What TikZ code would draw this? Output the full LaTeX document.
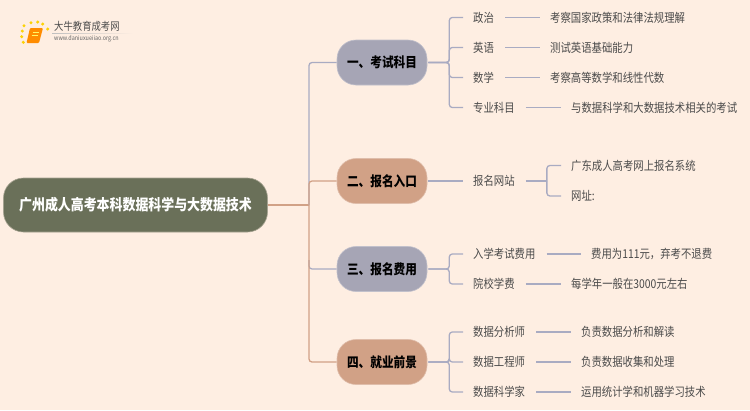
\documentclass[tikz,border=0pt]{standalone}
\usepackage{fontspec}
\setmainfont[FakeStretch=0.85]{Noto Sans CJK SC}
\usetikzlibrary{calc}
\definecolor{bgcol}{HTML}{FEEEE2}
\definecolor{rootcol}{HTML}{6A7059}
\definecolor{bluecol}{HTML}{A6A5B5}
\definecolor{tancol}{HTML}{D1A186}
\definecolor{linecol}{HTML}{A9ABC2}
\definecolor{txtcol}{HTML}{4A4A4A}
\tikzset{
  root/.style={rounded corners=20pt,fill=rootcol,draw=rootcol!60!bgcol,line width=0.6pt,minimum width=264pt,minimum height=54pt,inner sep=0pt,text=white,font=\fontsize{15.2}{16}\selectfont\bfseries},
  topic/.style={rounded corners=19pt,draw=white!30!#1,fill=#1,line width=0.6pt,minimum width=90pt,minimum height=45pt,inner sep=0pt,text=black,font=\fontsize{13.7}{15}\selectfont\bfseries},
  item/.style={text=txtcol,inner sep=0pt,anchor=west,font=\fontsize{12.2}{14}\selectfont},
  link/.style={line width=1.3pt,draw=linecol},
  linktan/.style={line width=1.3pt,draw=tancol},
}
\begin{document}
\begin{tikzpicture}[x=1pt,y=-1pt]
  \useasboundingbox (0,0) rectangle (750,410);
  \fill[bgcol] (0,0) rectangle (750,410);

  % logo
  \node[inner sep=0pt,anchor=west,font=\fontsize{11}{12}\selectfont,text=black!70] (logotxt) at (54,26.7) {大牛教育成考网};
  \node[inner sep=0pt,anchor=west,font=\fontsize{6.4}{7}\selectfont,text=black!60] (logourl) at (54,39) {www.daniuxueiiao.org.cn};
  \shade[left color=black!25,right color=bgcol] (52,33.2) rectangle (133,33.9);
  \fill[orange!90!yellow,rounded corners=1pt] (30,28) -- (43,28) -- (39,43) -- (26.5,43) -- cycle;
  \draw[yellow!60,line width=0.6pt] (32.5,32) -- (39,32) (31.5,35.5) -- (38,35.5);
  \foreach \px/\py in {24/25.7,31/22.7,37.7/22,42.7/24,47.7/29,22.3/31,21.7/36.7,23.3/42.3}
    \fill[yellow!70!orange] (\px,\py) circle (1.7pt);

  % root and topics
  \node[root] (root) at (135.5,205) {广州成人高考本科数据科学与大数据技术};
  \node[topic=bluecol] (t1) at (382,62.5) {一、考试科目};
  \node[topic=tancol] (t2) at (382,181) {二、报名入口};
  \node[topic=bluecol] (t3) at (382,269) {三、报名费用};
  \node[topic=tancol] (t4) at (382,362) {四、就业前景};

  % topic 1
  \node[item] (zz) at (473,17.5) {政治};
  \node[item] (yy) at (473,47.5) {英语};
  \node[item] (sx) at (473,77.5) {数学};
  \node[item] (zy) at (473,107.5) {专业科目};
  \node[item] (zza) at (550,17.5) {考察国家政策和法律法规理解};
  \node[item] (yya) at (550,47.5) {测试英语基础能力};
  \node[item] (sxa) at (550,77.5) {考察高等数学和线性代数};
  \node[item] (zya) at (571,107.5) {与数据科学和大数据技术相关的考试};

  % topic 2
  \node[item] (wz) at (473,181) {报名网站};
  \node[item] (wza) at (571,165.5) {广东成人高考网上报名系统};
  \node[item] (wzb) at (571,196) {网址:};

  % topic 3
  \node[item] (ks) at (473,254) {入学考试费用};
  \node[item] (yx) at (473,284) {院校学费};
  \node[item] (ksa) at (591,254) {费用为111元，弃考不退费};
  \node[item] (yxa) at (571,284) {每学年一般在3000元左右};

  % topic 4
  \node[item] (fx) at (473,332) {数据分析师};
  \node[item] (gc) at (473,362) {数据工程师};
  \node[item] (kx) at (473,392) {数据科学家};
  \node[item] (fxa) at (581,332) {负责数据分析和解读};
  \node[item] (gca) at (581,362) {负责数据收集和处理};
  \node[item] (kxa) at (581,392) {运用统计学和机器学习技术};

  % root to topics
  \draw[linktan] (root.east) -- (309,205);
  \draw[link,rounded corners=3pt] (309,205) -- (309,62.5) -- (t1.west);
  \draw[linktan,rounded corners=3pt] (309,205) |- (t2.west);
  \draw[link,rounded corners=3pt] (309,260) |- (t3.west);
  \draw[linktan,rounded corners=3pt] (309,205) |- (t4.west);

  % topics to items
  \foreach \from/\to in {t1/zz,t1/yy,t1/sx,t1/zy,t3/ks,t3/yx,t4/fx,t4/gc,t4/kx}
    \draw[link,rounded corners=3pt] ($(\from.east)+(1,0)$) -- +(21,0) |- ($(\to.west)+(-10,0)$);
  \draw[link] ($(t2.east)+(1,0)$) -- ($(wz.west)+(-10,0)$);

  % items to answers
  \foreach \from/\to in {zz/zza,yy/yya,sx/sxa,zy/zya,ks/ksa,yx/yxa,fx/fxa,gc/gca,kx/kxa}
    \draw[link] ($(\from.east)+(11,0)$) -- ($(\to.west)+(-10,0)$);
  \draw[link] ($(wz.east)+(11,0)$) -- +(21,0);
  \foreach \to in {wza,wzb}
    \draw[link,rounded corners=3pt] ($(wz.east)+(32,0)$) |- ($(\to.west)+(-10,0)$);
\end{tikzpicture}
\end{document}
